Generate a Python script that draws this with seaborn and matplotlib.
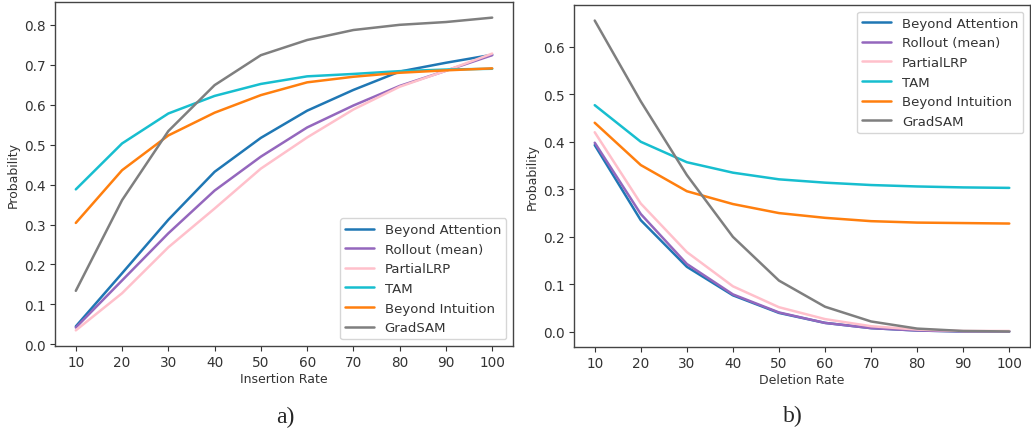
import numpy as np
import pandas as pd
import seaborn as sns
from matplotlib import pyplot as plt

sns.set_theme(style="ticks")
plt.rcParams["font.family"] = ["DejaVu Sans"]

rates = [10, 20, 30, 40, 50, 60, 70, 80, 90, 100]
methods = ["Beyond Attention", "Rollout (mean)", "PartialLRP", "TAM", "Beyond Intuition", "GradSAM"]
colors = ["tab:blue", "tab:purple", "pink", "tab:cyan", "tab:orange", "tab:gray"]

# insertion curves
ins_beyond_att = [0.045, 0.178, 0.312, 0.432, 0.517, 0.585, 0.637, 0.683, 0.705, 0.725]
ins_rollout = [0.042, 0.160, 0.278, 0.385, 0.470, 0.543, 0.598, 0.647, 0.685, 0.724]
ins_partiallrp = [0.035, 0.128, 0.243, 0.340, 0.440, 0.518, 0.588, 0.645, 0.685, 0.728]
ins_tam = [0.388, 0.503, 0.578, 0.622, 0.652, 0.671, 0.677, 0.684, 0.688, 0.690]
ins_beyond_int = [0.304, 0.436, 0.523, 0.580, 0.624, 0.656, 0.670, 0.680, 0.686, 0.691]
ins_gradsam = [0.134, 0.361, 0.534, 0.649, 0.724, 0.762, 0.787, 0.800, 0.807, 0.818]

# deletion curves
del_beyond_att = [0.393, 0.235, 0.137, 0.077, 0.040, 0.019, 0.008, 0.003, 0.001, 0.001]
del_rollout = [0.398, 0.248, 0.143, 0.079, 0.041, 0.019, 0.008, 0.003, 0.001, 0.001]
del_partiallrp = [0.420, 0.270, 0.168, 0.096, 0.052, 0.027, 0.012, 0.005, 0.002, 0.002]
del_tam = [0.477, 0.400, 0.357, 0.335, 0.321, 0.314, 0.309, 0.306, 0.304, 0.303]
del_beyond_int = [0.440, 0.351, 0.296, 0.269, 0.250, 0.240, 0.233, 0.230, 0.229, 0.228]
del_gradsam = [0.655, 0.485, 0.330, 0.200, 0.108, 0.053, 0.022, 0.007, 0.002, 0.001]

def to_long(series):
    rows = []
    for m, vals in zip(methods, series):
        for r, v in zip(rates, vals):
            rows.append({"rate": r, "prob": v, "method": m})
    return pd.DataFrame(rows)

ins = to_long([ins_beyond_att, ins_rollout, ins_partiallrp, ins_tam, ins_beyond_int, ins_gradsam])
dele = to_long([del_beyond_att, del_rollout, del_partiallrp, del_tam, del_beyond_int, del_gradsam])
pal = dict(zip(methods, colors))

fig = plt.figure(figsize=(10.31, 4.31), dpi=100)
ax1 = fig.add_axes([55 / 1031, 84 / 431, 458 / 1031, 344 / 431])
ax2 = fig.add_axes([574 / 1031, 83 / 431, 456 / 1031, 342 / 431])

for ax, d, xl, loc in [(ax1, ins, "Insertion Rate", "lower right"), (ax2, dele, "Deletion Rate", "upper right")]:
    sns.lineplot(data=d, x="rate", y="prob", hue="method", palette=pal, ax=ax, linewidth=1.8)
    ax.set_xticks(rates)
    ax.set_xlabel(xl, fontsize=9, color="#333333", labelpad=2)
    ax.set_ylabel("Probability", fontsize=9, color="#333333", labelpad=3)
    ax.tick_params(labelsize=9.8, colors="#333333", length=3.5, width=0.8, pad=3)
    for s in ax.spines.values():
        s.set_color("#444444")
        s.set_linewidth(1.0)
    leg = ax.legend(loc=loc, fontsize=9.5, title=None, frameon=True, handlelength=2.2)
    leg.get_frame().set_edgecolor("#cccccc")
    for t in leg.get_texts():
        t.set_color("#333333")

ax1.set_yticks(np.arange(0, 0.81, 0.1))
ax2.set_yticks(np.arange(0, 0.61, 0.1))

fig.text(285 / 1031, 1 - 417 / 431, "a)", fontsize=17, family="Liberation Serif", ha="center", va="center")
fig.text(793 / 1031, 1 - 416 / 431, "b)", fontsize=17, family="Liberation Serif", ha="center", va="center")

fig.savefig("out.png", dpi=100)
